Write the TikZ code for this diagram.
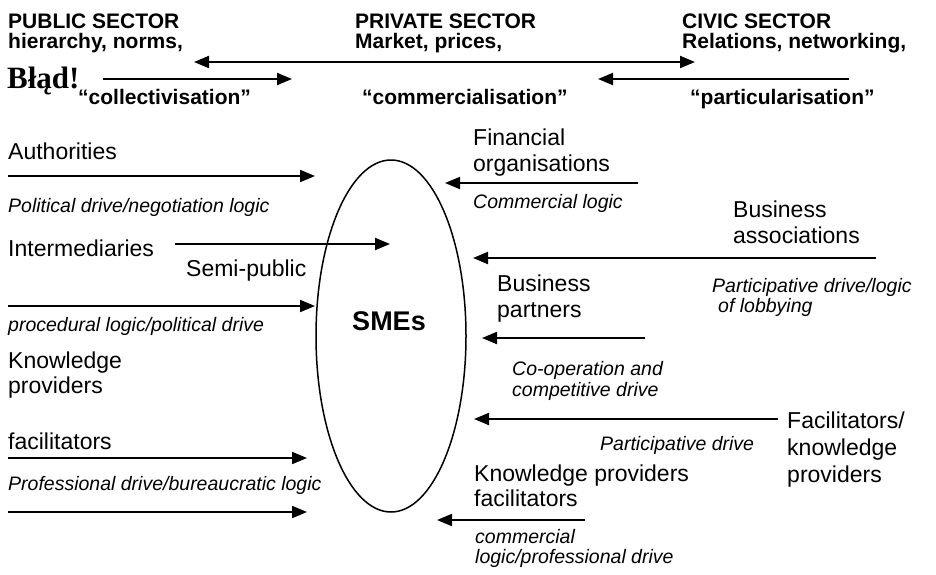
\documentclass[tikz,border=0pt]{standalone}
\usepackage{fontspec}
\setmainfont{Liberation Sans}
\newfontfamily\timesfont{Liberation Serif}
\usetikzlibrary{arrows.meta,shapes.geometric}
\begin{document}
\begin{tikzpicture}[x=1pt,y=-1pt,
  lbl/.style={anchor=base west,inner sep=0pt,font=\fontsize{23}{26}\selectfont},
  note/.style={anchor=base west,inner sep=0pt,font=\fontsize{19.5}{22}\selectfont\itshape},
  head/.style={anchor=base west,inner sep=0pt,font=\fontsize{21}{24}\selectfont\bfseries},
  flow/.style={line width=2pt,-{Triangle[length=15pt,width=12pt]}},
  both/.style={line width=2pt,{Triangle[length=15pt,width=12pt]}-{Triangle[length=15pt,width=12pt]}},
]
\useasboundingbox (0,0) rectangle (936,574);

% sector headings
\node[head] (pub1) at (8,28) {PUBLIC SECTOR};
\node[head] (pub2) at (8,48) {hierarchy, norms,};
\node[anchor=base west,inner sep=0pt,font=\fontsize{31}{34}\selectfont\timesfont\bfseries] (err) at (7,88) {Błąd!};
\node[head] (pri1) at (355,28) {PRIVATE SECTOR};
\node[head] (pri2) at (355,48) {Market, prices,};
\node[head] (civ1) at (682,28) {CIVIC SECTOR};
\node[head] (civ2) at (682,48) {Relations, networking,};
\node[head] (coll) at (78,104) {“collectivisation”};
\node[head] (comm) at (362,104) {“commercialisation”};
\node[head] (part) at (690,104) {“particularisation”};

% arrows between the sectors
\coordinate (h1l) at (194,62);
\coordinate (h1r) at (695,62);
\coordinate (h2s) at (103,79);
\coordinate (h2e) at (292,79);
\coordinate (h3s) at (849,79);
\coordinate (h3e) at (598,79);
\draw[both] (h1l) -- (h1r);
\draw[flow] (h2s) -- (h2e);
\draw[flow] (h3s) -- (h3e);

% the SMEs
\node[draw,ellipse,line width=1.5pt,minimum width=150pt,minimum height=352pt,inner sep=0pt] (sme) at (391,336) {};
\node[anchor=base,inner sep=0pt,font=\fontsize{27}{30}\selectfont\bfseries] (smel) at (389,330) {SMEs};

% left-hand actors
\node[lbl] (auth) at (8,159) {Authorities};
\coordinate (l1s) at (8,176);
\coordinate (l1e) at (315,176);
\draw[flow] (l1s) -- (l1e);
\node[note] (pol) at (8,212) {Political drive/negotiation logic};

\node[lbl] (inter) at (8,256) {Intermediaries};
\coordinate (l2s) at (175,244);
\coordinate (l2e) at (390,244);
\draw[flow] (l2s) -- (l2e);
\node[lbl] (semi) at (186,276) {Semi-public};
\coordinate (l3s) at (8,306);
\coordinate (l3e) at (315,306);
\draw[flow] (l3s) -- (l3e);
\node[note] (proc) at (8,331) {procedural logic/political drive};

\node[lbl] (kp1) at (8,368) {Knowledge};
\node[lbl] (kp2) at (8,393) {providers};
\node[lbl] (fac) at (8,449) {facilitators};
\coordinate (l4s) at (8,458);
\coordinate (l4e) at (307,458);
\draw[flow] (l4s) -- (l4e);
\node[note] (prof) at (8,490) {Professional drive/bureaucratic logic};
\coordinate (l5s) at (8,512);
\coordinate (l5e) at (307,512);
\draw[flow] (l5s) -- (l5e);

% right-hand actors
\node[lbl] (fin1) at (473,145) {Financial};
\node[lbl] (fin2) at (473,171) {organisations};
\coordinate (r1s) at (638,183);
\coordinate (r1e) at (445,183);
\draw[flow] (r1s) -- (r1e);
\node[note] (cl) at (473,208) {Commercial logic};

\node[lbl] (ba1) at (733,217) {Business};
\node[lbl] (ba2) at (733,243) {associations};
\coordinate (r2s) at (876,258);
\coordinate (r2e) at (473,258);
\draw[flow] (r2s) -- (r2e);
\node[note] (pd1) at (712,292) {Participative drive/logic};
\node[note] (pd2) at (718,312) {of lobbying};

\node[lbl] (bp1) at (497,291) {Business};
\node[lbl] (bp2) at (497,317) {partners};
\coordinate (r3s) at (645,338);
\coordinate (r3e) at (482,338);
\draw[flow] (r3s) -- (r3e);
\node[note] (co1) at (512,375) {Co-operation and};
\node[note] (co2) at (512,396) {competitive drive};

\coordinate (r4s) at (778,419);
\coordinate (r4e) at (474,419);
\draw[flow] (r4s) -- (r4e);
\node[note] (pdr) at (600,450) {Participative drive};
\node[lbl] (fk1) at (787,428) {Facilitators/};
\node[lbl] (fk2) at (787,455) {knowledge};
\node[lbl] (fk3) at (787,482) {providers};

\node[lbl] (kf1) at (474,481) {Knowledge providers};
\node[lbl] (kf2) at (474,506) {facilitators};
\coordinate (r5s) at (585,520);
\coordinate (r5e) at (437,520);
\draw[flow] (r5s) -- (r5e);
\node[note] (cm1) at (475,543) {commercial};
\node[note] (cm2) at (475,563) {logic/professional drive};
\end{tikzpicture}
\end{document}
